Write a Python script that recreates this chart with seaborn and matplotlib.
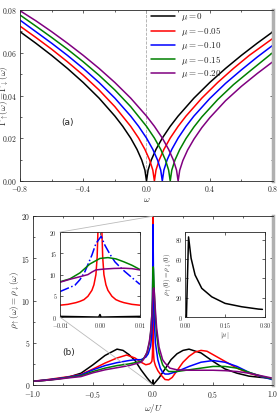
import matplotlib
matplotlib.use('Agg')
import matplotlib.pyplot as plt
import seaborn as sns
from matplotlib.patches import ConnectionPatch
from matplotlib.ticker import MultipleLocator

sns.set_style('ticks')
plt.rcParams['font.family'] = ['cmr10', 'DejaVu Serif']
plt.rcParams['mathtext.fontset'] = 'cm'
plt.rcParams['axes.formatter.use_mathtext'] = True
plt.rcParams['axes.unicode_minus'] = True

colors = ['black', 'red', 'blue', 'green', 'purple']
mu_labels = [r'$\mu = 0$', r'$\mu = -0.05$', r'$\mu = -0.10$', r'$\mu = -0.15$', r'$\mu = -0.20$']

# ---- panel (a): Gamma(omega) for each mu ----
gam_w_0 = [-0.8, -0.7, -0.6, -0.5, -0.4, -0.3, -0.2, -0.15, -0.1, -0.06, -0.03, -0.01, 0.0,
           0.01, 0.03, 0.06, 0.1, 0.15, 0.2, 0.3, 0.4, 0.5, 0.6, 0.7, 0.8]
gam_0 = [0.0699, 0.0645, 0.0588, 0.0527, 0.0461, 0.0388, 0.0304, 0.0256, 0.0201, 0.0148, 0.0098, 0.0051, 0.0,
         0.0051, 0.0098, 0.0148, 0.0201, 0.0256, 0.0304, 0.0388, 0.0461, 0.0527, 0.0588, 0.0645, 0.0699]

gam_w_05 = [-0.8, -0.7, -0.6, -0.5, -0.4, -0.3, -0.2, -0.1, -0.05, -0.01, 0.02, 0.04, 0.05,
            0.06, 0.08, 0.11, 0.15, 0.2, 0.25, 0.35, 0.45, 0.55, 0.65, 0.8]
gam_05 = [0.0725, 0.0672, 0.0617, 0.0558, 0.0495, 0.0426, 0.0348, 0.0256, 0.0201, 0.0148, 0.0098, 0.0051, 0.0,
          0.0051, 0.0098, 0.0148, 0.0201, 0.0256, 0.0304, 0.0388, 0.0461, 0.0527, 0.0588, 0.0668]

gam_w_10 = [-0.8, -0.7, -0.6, -0.5, -0.4, -0.3, -0.2, -0.1, -0.05, 0.0, 0.04, 0.07, 0.09, 0.1,
            0.11, 0.13, 0.16, 0.2, 0.25, 0.3, 0.4, 0.5, 0.6, 0.7, 0.8]
gam_10 = [0.0753, 0.0699, 0.0645, 0.0588, 0.0527, 0.0461, 0.0388, 0.0304, 0.0256, 0.0201, 0.0148, 0.0098, 0.0051, 0.0,
          0.0051, 0.0098, 0.0148, 0.0201, 0.0256, 0.0304, 0.0386, 0.0457, 0.0520, 0.0580, 0.0636]

gam_w_15 = [-0.8, -0.7, -0.6, -0.5, -0.4, -0.3, -0.2, -0.1, 0.0, 0.05, 0.09, 0.12, 0.14, 0.15,
            0.16, 0.18, 0.21, 0.25, 0.3, 0.35, 0.45, 0.55, 0.65, 0.8]
gam_15 = [0.0777, 0.0725, 0.0672, 0.0617, 0.0558, 0.0495, 0.0426, 0.0348, 0.0256, 0.0201, 0.0148, 0.0098, 0.0051, 0.0,
          0.0051, 0.0098, 0.0147, 0.0199, 0.0253, 0.0300, 0.0381, 0.0451, 0.0512, 0.0602]

gam_w_20 = [-0.8, -0.7, -0.6, -0.5, -0.4, -0.3, -0.2, -0.1, 0.0, 0.05, 0.1, 0.14, 0.17, 0.19, 0.2,
            0.21, 0.23, 0.26, 0.3, 0.35, 0.4, 0.5, 0.6, 0.7, 0.8]
gam_20 = [0.0797, 0.0750, 0.0699, 0.0645, 0.0588, 0.0527, 0.0461, 0.0388, 0.0304, 0.0256, 0.0201, 0.0148, 0.0098, 0.0051, 0.0,
          0.0050, 0.0096, 0.0145, 0.0196, 0.0250, 0.0296, 0.0376, 0.0443, 0.0503, 0.0559]

gam_w = [gam_w_0, gam_w_05, gam_w_10, gam_w_15, gam_w_20]
gam = [gam_0, gam_05, gam_10, gam_15, gam_20]

# ---- panel (b): rho(omega/U), coarse part ----
rho_w_black = [-1.0, -0.9, -0.8, -0.7, -0.6, -0.5, -0.4, -0.3, -0.25, -0.2, -0.15, -0.1, -0.05,
               0.05, 0.1, 0.15, 0.2, 0.25, 0.3, 0.4, 0.5, 0.6, 0.7, 0.8, 0.9, 1.0]
rho_black = [0.45, 0.55, 0.72, 0.95, 1.4, 2.4, 3.5, 4.25, 4.1, 3.6, 2.9, 1.8, 0.85,
             0.85, 1.9, 3.0, 3.7, 4.1, 4.25, 3.8, 2.8, 1.9, 1.4, 1.05, 0.9, 0.78]

rho_w_red = [-1.0, -0.9, -0.8, -0.7, -0.6, -0.5, -0.4, -0.3, -0.22, -0.15, -0.1, -0.06, -0.03, -0.02,
             0.02, 0.04, 0.06, 0.1, 0.13, 0.16, 0.2, 0.25, 0.3, 0.35, 0.4, 0.45, 0.5, 0.6, 0.7, 0.8, 0.9, 1.0]
rho_red = [0.45, 0.6, 0.8, 1.0, 1.25, 1.9, 2.6, 3.2, 3.55, 3.2, 2.7, 2.4, 2.5, 2.6,
           2.3, 1.7, 1.3, 0.65, 0.6, 0.9, 1.7, 2.7, 3.4, 3.9, 4.1, 4.0, 3.6, 2.8, 2.0, 1.4, 1.0, 0.7]

rho_w_blue = [-1.0, -0.9, -0.8, -0.7, -0.6, -0.5, -0.4, -0.3, -0.2, -0.15, -0.1, -0.06, -0.04, -0.02,
              0.02, 0.04, 0.06, 0.08, 0.1, 0.13, 0.2, 0.3, 0.4, 0.5, 0.6, 0.7, 0.8, 0.9, 1.0]
rho_blue = [0.45, 0.58, 0.75, 0.95, 1.2, 1.8, 2.3, 2.65, 2.9, 3.0, 3.0, 3.3, 3.7, 4.6,
            5.0, 3.0, 2.0, 1.5, 1.3, 1.3, 1.6, 2.2, 2.7, 2.9, 2.7, 2.2, 1.5, 1.0, 0.62]

rho_w_green = [-1.0, -0.9, -0.8, -0.7, -0.6, -0.5, -0.4, -0.3, -0.2, -0.1, -0.08, -0.05, -0.03, -0.02,
               0.02, 0.03, 0.05, 0.08, 0.1, 0.13, 0.2, 0.3, 0.4, 0.5, 0.6, 0.7, 0.8, 0.9, 1.0]
rho_green = [0.45, 0.55, 0.7, 0.9, 1.1, 1.6, 2.0, 2.3, 2.5, 2.8, 3.1, 3.8, 5.0, 6.2,
             8.0, 6.0, 3.8, 2.4, 2.0, 1.6, 1.6, 1.8, 2.0, 2.2, 2.2, 2.0, 1.5, 1.05, 0.7]

rho_w_purple = [-1.0, -0.9, -0.8, -0.7, -0.6, -0.5, -0.4, -0.3, -0.2, -0.1, -0.08, -0.05, -0.03, -0.02,
                0.02, 0.03, 0.05, 0.08, 0.1, 0.14, 0.2, 0.3, 0.4, 0.5, 0.6, 0.7, 0.8, 0.9, 1.0]
rho_purple = [0.45, 0.55, 0.68, 0.85, 1.0, 1.45, 1.8, 2.05, 2.3, 2.7, 3.0, 3.9, 5.2, 6.3,
              8.8, 6.8, 4.5, 3.0, 2.6, 2.0, 1.8, 1.75, 1.75, 1.75, 1.7, 1.6, 1.4, 1.1, 0.8]

# ---- panel (b) inset: |omega| <= 0.01 ----
zw_black = [-0.01, -0.005, -0.0003, 0.0, 0.0003, 0.005, 0.01]
zr_black = [0.17, 0.09, 0.0, 0.6, 0.0, 0.09, 0.17]

zw_red = [-0.01, -0.008, -0.006, -0.005, -0.004, -0.003, -0.002, -0.0015, -0.001, -0.0007, -0.0005, -0.0003, 0.0,
          0.0003, 0.0005, 0.0007, 0.001, 0.0015, 0.002, 0.003, 0.004, 0.005, 0.006, 0.008, 0.01]
zr_red = [2.8, 3.0, 3.4, 3.7, 4.1, 4.9, 6.3, 7.6, 10.0, 14.0, 20.0, 28.0, 40.0,
          28.0, 20.0, 14.0, 10.0, 7.6, 6.3, 4.9, 4.1, 3.7, 3.4, 3.0, 2.8]

zw_blue = [-0.01, -0.008, -0.00625, -0.005, -0.00375, -0.002, -0.001, 0.0003, 0.00125, 0.0025, 0.00375, 0.005, 0.00625, 0.008, 0.01]
zr_blue = [6.0, 6.8, 7.5, 8.8, 10.7, 14.6, 17.3, 19.0, 16.9, 14.8, 13.0, 11.8, 10.7, 9.3, 7.7]

zw_green = [-0.01, -0.0075, -0.005, -0.0025, 0.0, 0.002, 0.004, 0.006, 0.008, 0.01]
zr_green = [8.3, 9.0, 10.4, 12.5, 13.8, 14.0, 13.7, 13.0, 12.2, 11.2]

zw_purple = [-0.01, -0.0075, -0.005, -0.003, -0.002, -0.001, 0.001, 0.0035, 0.006, 0.008, 0.01]
zr_purple = [8.2, 8.9, 9.5, 10.0, 10.6, 11.1, 11.3, 11.45, 11.5, 11.4, 11.1]

rho_w = [rho_w_black, rho_w_red, rho_w_blue, rho_w_green, rho_w_purple]
rho = [rho_black, rho_red, rho_blue, rho_green, rho_purple]
zoom_w = [zw_black, zw_red, zw_blue, zw_green, zw_purple]
zoom_r = [zr_black, zr_red, zr_blue, zr_green, zr_purple]

# ---- rho(0) vs |mu| ----
abs_mu = [0.0, 0.005, 0.013, 0.0225, 0.0375, 0.0625, 0.1, 0.15, 0.2125, 0.275, 0.29]
rho0 = [0.0, 0.0, 83.0, 61.0, 43.6, 29.8, 21.0, 14.2, 10.7, 8.3, 8.0]

tick_fs = 5.5
lab_fs = 6.5
fig = plt.figure(figsize=(2.8, 4.2), dpi=100)


def style(ax, fs):
    ax.tick_params(which='both', direction='in', top=True, right=True, labelsize=fs, width=0.5, pad=2)
    ax.tick_params(which='major', length=2.5)
    ax.tick_params(which='minor', length=1.3)
    for s in ax.spines.values():
        s.set_linewidth(0.6)


# panel (a)
ax1 = fig.add_axes([0.0714, 0.569, 0.9036, 0.407])
ax1.axvline(0, color='#aaaaaa', ls='--', lw=0.6)
for w, g, c, lab in zip(gam_w, gam, colors, mu_labels):
    sns.lineplot(x=w, y=g, ax=ax1, color=c, lw=1.1, label=lab)
ax1.set_xlim(-0.8, 0.8)
ax1.set_ylim(0, 0.08)
ax1.xaxis.set_major_locator(MultipleLocator(0.4))
ax1.xaxis.set_minor_locator(MultipleLocator(0.2))
ax1.yaxis.set_major_locator(MultipleLocator(0.02))
ax1.yaxis.set_minor_locator(MultipleLocator(0.01))
style(ax1, tick_fs)
ax1.spines['right'].set_color('#b0b0b0')
ax1.spines['right'].set_linewidth(2.5)
ax1.set_xlabel(r'$\omega$', fontsize=lab_fs, labelpad=1)
ax1.set_ylabel(r'$\Gamma_{\uparrow}(\omega) = \Gamma_{\downarrow}(\omega)$', fontsize=lab_fs)
ax1.yaxis.set_label_coords(-0.036, 0.5)
ax1.text(0.165, 0.33, '(a)', transform=ax1.transAxes, fontsize=6.5, family='DejaVu Sans')
ax1.legend(loc='upper left', bbox_to_anchor=(0.5, 1.02), frameon=False, fontsize=6.5,
           handlelength=2.7, labelspacing=0.2, borderaxespad=0.1, handletextpad=0.6)

# panel (b)
ax2 = fig.add_axes([0.118, 0.0833, 0.857, 0.402])
for w, r, zw, zr, c in zip(rho_w, rho, zoom_w, zoom_r, colors):
    pts = sorted(zip(w + zw, r + zr))
    sns.lineplot(x=[p[0] for p in pts], y=[p[1] for p in pts], ax=ax2, color=c, lw=1.1)
ax2.set_xlim(-1.0, 1.0)
ax2.set_ylim(0, 20)
ax2.xaxis.set_major_locator(MultipleLocator(0.5))
ax2.xaxis.set_minor_locator(MultipleLocator(0.25))
ax2.yaxis.set_major_locator(MultipleLocator(5))
ax2.yaxis.set_minor_locator(MultipleLocator(2.5))
style(ax2, tick_fs)
ax2.tick_params(axis='x', pad=3)
ax2.spines['right'].set_color('#b0b0b0')
ax2.spines['right'].set_linewidth(2.5)
ax2.set_xlabel(r'$\omega/U$', fontsize=lab_fs, labelpad=1)
ax2.set_ylabel(r'$\rho_{\uparrow}(\omega) = \rho_{\downarrow}(\omega)$', fontsize=lab_fs)
ax2.yaxis.set_label_coords(-0.046, 0.5)
ax2.text(0.12, 0.175, '(b)', transform=ax2.transAxes, fontsize=6.5, family='DejaVu Sans')

# inset: zoom around omega = 0
axz = fig.add_axes([0.214, 0.245, 0.2857, 0.2024])
for zw, zr, c in zip(zoom_w, zoom_r, colors):
    sns.lineplot(x=zw, y=zr, ax=axz, color=c, lw=1.1, ls='-.' if c == 'blue' else '-')
axz.set_xlim(-0.01, 0.01)
axz.set_ylim(0, 20)
axz.set_xticks([-0.01, 0.0, 0.01])
axz.set_xticklabels([r'$-0.01$', r'$0.00$', r'$0.01$'])
axz.yaxis.set_major_locator(MultipleLocator(5))
style(axz, 4.3)
axz.tick_params(axis='x', pad=2.5)
axz.set_xlabel('')
axz.set_ylabel('')

for xa, xb in [((0, 1), (0, 20)), ((0, 0), (0, 0))]:
    con = ConnectionPatch(xyA=xa, coordsA=axz.transAxes, xyB=xb, coordsB=ax2.transData,
                          color='#bbbbbb', lw=0.6)
    fig.add_artist(con)

# inset: rho(0) vs |mu|
axm = fig.add_axes([0.661, 0.245, 0.2857, 0.2024])
sns.lineplot(x=abs_mu, y=rho0, ax=axm, color='black', lw=1.1)
axm.set_xlim(0, 0.3)
axm.set_ylim(0, 88)
axm.set_xticks([0.0, 0.15, 0.3])
axm.yaxis.set_major_locator(MultipleLocator(20))
style(axm, 4.3)
axm.tick_params(axis='x', pad=2.5)
axm.set_xlabel(r'$|\mu|$', fontsize=5, labelpad=0.5)
axm.set_ylabel(r'$\rho_{\uparrow}(0) = \rho_{\downarrow}(0)$', fontsize=5, labelpad=0.5)

fig.savefig('out.png', dpi=100)
